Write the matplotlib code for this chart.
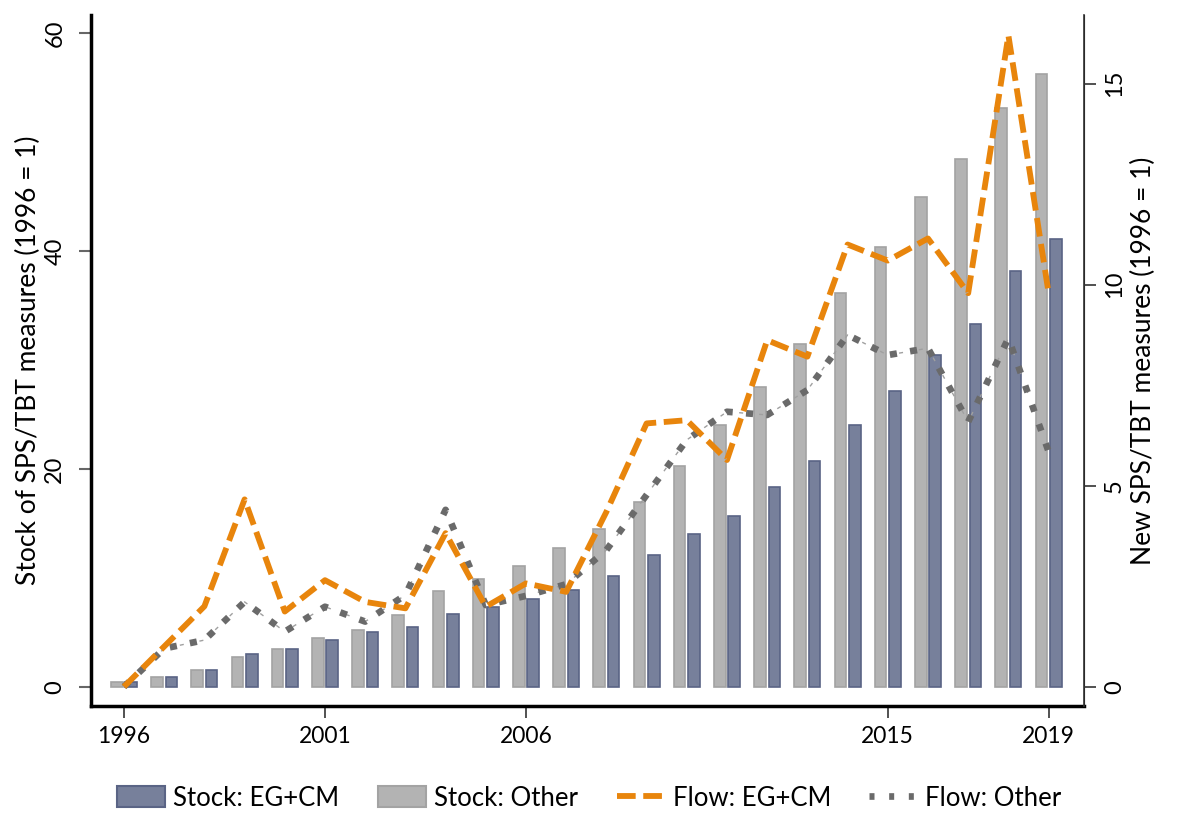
import numpy as np
import matplotlib
matplotlib.use("Agg")
import matplotlib.pyplot as plt
from matplotlib.lines import Line2D
from matplotlib.patches import Patch

plt.rcParams['font.family'] = ['Lato', 'DejaVu Sans']

years = np.arange(1996, 2020)

# stock (left axis)
stock_other = [0.46, 0.92, 1.53, 2.76, 3.46, 4.5, 5.24, 6.56, 8.82, 9.9, 11.1, 12.7,
               14.5, 17.0, 20.3, 24.0, 27.5, 31.5, 36.2, 40.4, 45.0, 48.5, 53.2, 56.3]
stock_egcm = [0.46, 0.92, 1.53, 2.97, 3.46, 4.29, 5.0, 5.49, 6.68, 7.3, 8.03, 8.86,
              10.2, 12.1, 14.0, 15.7, 18.3, 20.7, 24.0, 27.2, 30.5, 33.3, 38.2, 41.1]

# flow (right axis)
flow_egcm = [0.0, 1.0, 2.0, 4.66, 1.87, 2.65, 2.11, 1.95, 3.82, 1.99, 2.57, 2.36,
             4.35, 6.55, 6.63, 5.64, 8.62, 8.21, 11.0, 10.6, 11.15, 9.79, 16.2, 9.8]
flow_other = [0.0, 0.95, 1.16, 2.11, 1.37, 1.99, 1.62, 2.28, 4.4, 2.03, 2.26, 2.55,
              3.4, 4.77, 6.14, 6.84, 6.76, 7.38, 8.75, 8.25, 8.42, 6.59, 8.67, 5.85]

xticks = [1996, 2001, 2006, 2015, 2019]

blue_fill, blue_edge = '#77809b', '#5a6485'
grey_fill, grey_edge = '#b3b3b3', '#a3a3a3'
orange = '#e8850c'
dgrey = '#6a6a6a'
lgrey = '#a0a0a0'

# dash patterns (grey: square dot with a thin tick in between)
dot_style = (0, (1.064, 2.0))
tick_style = (6.15, (2.9, 11.5))
dash_style = (0, (3.2, 1.3))

fig = plt.figure(figsize=(11.79, 8.22), dpi=100)
ax = fig.add_axes([0.0772, 0.1411, 0.8422, 0.8407])
ax2 = ax.twinx()

w = 0.29
ax.bar(years - 0.18, stock_other, width=w, color=grey_fill, edgecolor=grey_edge, linewidth=1.2)
ax.bar(years + 0.18, stock_egcm, width=w, color=blue_fill, edgecolor=blue_edge, linewidth=1.2)

ax2.plot(years, flow_other, color=lgrey, lw=1.0, linestyle=tick_style)
ax2.plot(years, flow_other, color=dgrey, lw=4.8, linestyle=dot_style, dash_capstyle='butt')
ax2.plot(years, flow_egcm, color=orange, lw=4.2, linestyle=dash_style, dash_capstyle='butt')

ax.set_xlim(1995.18, 2019.88)
ax.set_ylim(-1.77, 61.7)
ax2.set_ylim(-0.48, 16.71)

ax.set_xticks(xticks)
ax.set_xticklabels([str(y) for y in xticks], fontsize=16.5)
ax.set_yticks([0, 20, 40, 60])
ax.set_yticklabels(['0', '20', '40', '60'], fontsize=17, rotation=90, va='center')
ax2.set_yticks([0, 5, 10, 15])
ax2.set_yticklabels(['0', '5', '10', '15'], fontsize=17, rotation=90, va='center')

ax.tick_params(axis='x', length=8.5, width=1.2, color='#333333', pad=6)
ax.tick_params(axis='y', length=8.5, width=1.5, color='#666666', pad=10)
ax2.tick_params(axis='y', length=8.5, width=1.2, color='#333333', pad=6)

for a in (ax, ax2):
    a.spines['top'].set_visible(False)
ax.spines['left'].set_linewidth(2.5)
ax.spines['bottom'].set_linewidth(2.5)
ax2.spines['left'].set_visible(False)
ax2.spines['bottom'].set_visible(False)
ax2.spines['right'].set_linewidth(1.2)
ax2.spines['right'].set_color('#333333')

ax.set_ylabel('Stock of SPS/TBT measures (1996 = 1)', fontsize=19)
ax.yaxis.set_label_coords(-0.050, 0.5)
ax2.set_ylabel('New SPS/TBT measures (1996 = 1)', fontsize=19)
ax2.yaxis.set_label_coords(1.047, 0.5)

handles = [
    Patch(facecolor=blue_fill, edgecolor=blue_edge, linewidth=1.5),
    Patch(facecolor=grey_fill, edgecolor=grey_edge, linewidth=1.5),
    Line2D([], [], color=orange, lw=4.2, linestyle=(0, (3.2, 1.3))),
    Line2D([], [], color=dgrey, lw=4.8, linestyle=(0, (0.75, 2.2))),
]
labels = ['Stock: EG+CM', 'Stock: Other', 'Flow: EG+CM', 'Flow: Other']
fig.legend(handles, labels, loc='center', bbox_to_anchor=(0.5, 0.029), ncol=4,
           frameon=False, fontsize=18.5, handlelength=1.87, handleheight=0.9,
           columnspacing=1.5, handletextpad=0.31)

fig.savefig('out.png', dpi=100)
